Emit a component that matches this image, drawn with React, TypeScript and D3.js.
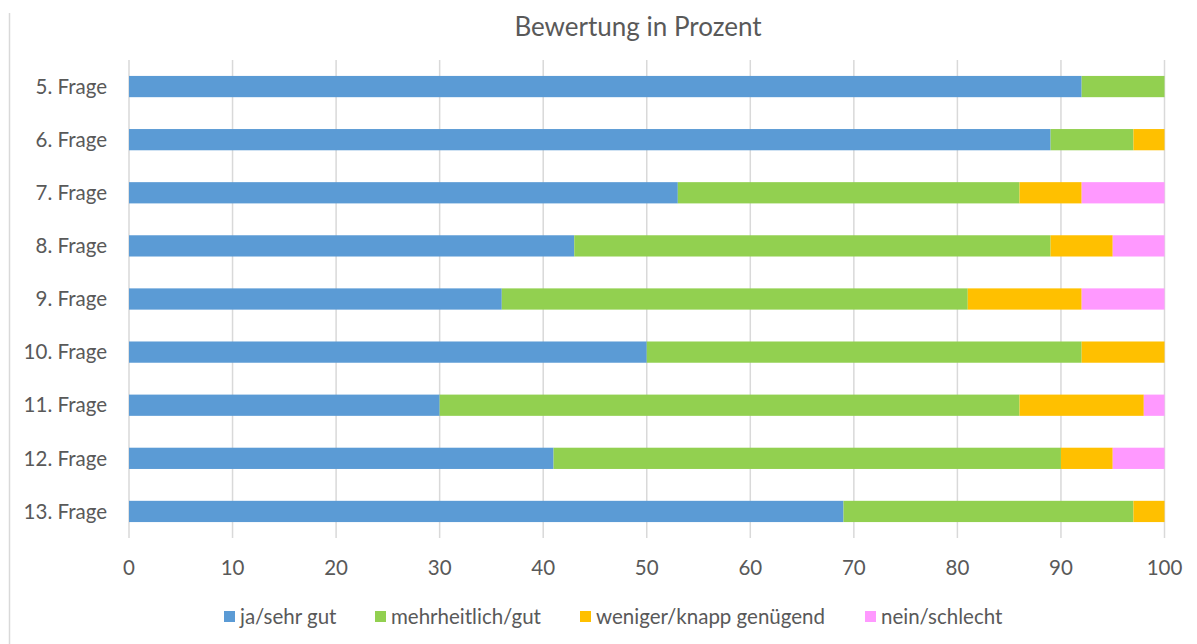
import React from 'react';
import * as d3 from 'd3';

// questions, top to bottom
const questions = ['5. Frage', '6. Frage', '7. Frage', '8. Frage', '9. Frage', '10. Frage', '11. Frage', '12. Frage', '13. Frage'];

// percentages per answer category
const jaSehrGut = [92, 89, 53, 43, 36, 50, 30, 41, 69];
const mehrheitlichGut = [8, 8, 33, 46, 45, 42, 56, 49, 28];
const wenigerKnapp = [0, 3, 6, 6, 11, 8, 12, 5, 3];
const neinSchlecht = [0, 0, 8, 5, 8, 0, 2, 5, 0];

const seriesNames = ['ja/sehr gut', 'mehrheitlich/gut', 'weniger/knapp genügend', 'nein/schlecht'];
const xTicks = [0, 10, 20, 30, 40, 50, 60, 70, 80, 90, 100];

const W = 1197;
const H = 644;
const font = 'Lato, "Open Sans", sans-serif';
const textColor = '#595959';

export default function App() {
  const keys = ['s0', 's1', 's2', 's3'];
  const rows = questions.map((q, i) => ({
    q,
    s0: jaSehrGut[i],
    s1: mehrheitlichGut[i],
    s2: wenigerKnapp[i],
    s3: neinSchlecht[i],
  }));
  const stack = d3.stack<any>().keys(keys)(rows);

  const color = d3.scaleOrdinal<string>().domain(keys).range(['#5B9BD5', '#92D050', '#FFC000', '#FF99FF']);
  const x = d3.scaleLinear().domain([0, 100]).range([129, 1164.5]);
  const y = d3.scaleBand().domain(questions).range([60, 538]).paddingInner(0.6).paddingOuter(0.3);

  // legend swatch positions
  const legendX = [224, 375, 580, 865];

  return (
    <svg width={W} height={H} style={{ position: 'absolute', left: 0, top: 0, background: '#fff' }}>
      <line x1={9.5} x2={9.5} y1={13} y2={H} stroke="#d9d9d9" strokeWidth={1.5} />
      <text x={638} y={36} textAnchor="middle" fontFamily={font} fontSize={26} fill={textColor}>
        Bewertung in Prozent
      </text>
      {xTicks.map(t => (
        <g key={t}>
          <line x1={x(t)} x2={x(t)} y1={60} y2={538} stroke="#d9d9d9" strokeWidth={1.5} />
          <text x={x(t)} y={575} textAnchor="middle" fontFamily={font} fontSize={20.5} fill={textColor}>
            {t}
          </text>
        </g>
      ))}
      {stack.map(s => (
        <g key={s.key} fill={color(s.key)}>
          {s.map((d, i) => (
            <rect
              key={i}
              x={x(d[0])}
              y={y(questions[i])}
              width={Math.max(0, x(d[1]) - x(d[0]))}
              height={y.bandwidth()}
            />
          ))}
        </g>
      ))}
      {questions.map(q => (
        <text key={q} x={107} y={(y(q) as number) + y.bandwidth() / 2} dy="0.35em" textAnchor="end" fontFamily={font} fontSize={20.5} fill={textColor}>
          {q}
        </text>
      ))}
      {seriesNames.map((n, i) => (
        <g key={n}>
          <rect x={legendX[i]} y={611} width={11} height={11} fill={color(keys[i])} />
          <text x={legendX[i] + 16} y={616.5} dy="0.35em" fontFamily={font} fontSize={20.5} fill={textColor}>
            {n}
          </text>
        </g>
      ))}
    </svg>
  );
}
